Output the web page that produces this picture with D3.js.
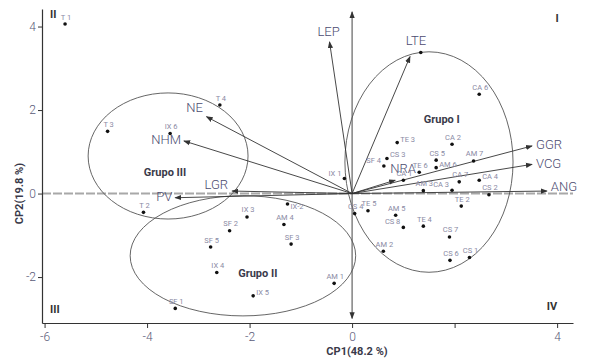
<!DOCTYPE html>
<html>
<head>
<meta charset="utf-8">
<script src="https://cdn.jsdelivr.net/npm/d3@7"></script>
<style>
  body { margin: 0; background: #fff; }
  svg { display: block; font-family: Roboto, "Open Sans", sans-serif; }
</style>
</head>
<body>
<div id="plot"></div>
<script>
// observations (scores on CP1 / CP2)
const obsNames = ["T 1", "T 3", "IX 6", "T 4", "T 2", "SF 1", "IX-2", "IX 3", "AM 4", "SF 2",
  "SF 5", "SF 3", "IX 4", "AM 1", "IX 5", "CS 4", "TE 5", "AM 2", "AM 3", "CA 3",
  "TE 2", "AM 5", "CS 8", "TE 4", "CS 7", "CS 6", "CS 1", "CS 2", "CA 2", "AM 7",
  "CA 4", "CA 7", "CA 6", "TE 3", "CS 3", "SF 4", "CS 5", "AM 6", "TE 6", "CA 1",
  "IX 1", ""];
const obsX = [-5.6, -4.77, -3.55, -2.58, -4.07, -3.45, -1.26, -2.05, -1.33, -2.39,
  -2.76, -1.19, -2.64, -0.35, -1.93, 0.05, 0.31, 0.61, 1.39, 1.95,
  2.13, 0.85, 1.0, 1.39, 1.90, 1.91, 2.29, 2.67, 1.95, 2.37,
  2.48, 2.09, 2.48, 0.88, 0.68, 0.62, 1.64, 1.64, 1.31, 1.0,
  -0.15, 1.34];
const obsY = [4.06, 1.49, 1.44, 2.12, -0.45, -2.75, -0.25, -0.56, -0.74, -0.89,
  -1.28, -1.21, -1.89, -2.15, -2.45, -0.48, -0.41, -1.38, 0.07, 0.08,
  -0.30, -0.52, -0.81, -0.78, -1.04, -1.60, -1.53, -0.03, 1.18, 0.78,
  0.32, 0.28, 2.38, 1.22, 0.84, 0.66, 0.80, 0.62, 0.51, 0.32,
  0.36, 3.38];

// variable loadings
const varNames = ["LEP", "LTE", "NE", "NHM", "LGR", "PV", "GGR", "VCG", "ANG", "NRA"];
const varX = [-0.44, 1.13, -2.84, -3.28, -2.34, -3.45, 3.51, 3.51, 3.80, 0.84];
const varY = [3.63, 3.28, 1.84, 1.26, 0.06, -0.10, 1.14, 0.70, 0.06, 0.32];

// groups
const groupNames = ["Grupo I", "Grupo II", "Grupo III"];
const groupCx = [1.50, -2.13, -3.59];
const groupCy = [0.755, -1.49, 0.90];
const groupRx = [1.64, 2.20, 1.56];
const groupRy = [2.64, 1.44, 1.51];
const groupLabelX = [1.75, -1.84, -3.65];
const groupLabelY = [1.76, -1.93, 0.49];

const quadrants = ["I", "II", "III", "IV"];
const xTicks = [-6, -4, -2, 0, 2, 4];
const yTicks = [-2, 0, 2, 4];

const width = 589, height = 358;
const margin = { top: 9, right: 16, bottom: 35, left: 42 };

const svg = d3.select("#plot").append("svg")
  .attr("width", width)
  .attr("height", height);

const x = d3.scaleLinear().domain([-6.05, 4.31]).range([margin.left, width - margin.right]);
const y = d3.scaleLinear().domain([-3.1, 4.42]).range([height - margin.bottom, margin.top]);

const defs = svg.append("defs");
defs.append("marker")
  .attr("id", "arr")
  .attr("viewBox", "0 -4 8 8")
  .attr("refX", 7).attr("refY", 0)
  .attr("markerUnits", "userSpaceOnUse")
  .attr("markerWidth", 7).attr("markerHeight", 7)
  .attr("orient", "auto-start-reverse")
  .append("path")
  .attr("d", "M0,-3L8,0L0,3Z")
  .attr("fill", "#333");

// zero lines
svg.append("line")
  .attr("x1", x.range()[0]).attr("x2", x.range()[1])
  .attr("y1", y(0)).attr("y2", y(0))
  .attr("stroke", "#a8a8a8").attr("stroke-width", 2)
  .attr("stroke-dasharray", "9,2");

svg.append("line")
  .attr("x1", x(0)).attr("x2", x(0))
  .attr("y1", y(-2.99)).attr("y2", y(4.35))
  .attr("stroke", "#444").attr("stroke-width", 1)
  .attr("marker-start", "url(#arr)")
  .attr("marker-end", "url(#arr)");

// group ellipses
svg.append("g").selectAll("ellipse")
  .data(groupNames)
  .join("ellipse")
  .attr("cx", (d, i) => x(groupCx[i]))
  .attr("cy", (d, i) => y(groupCy[i]))
  .attr("rx", (d, i) => x(groupRx[i]) - x(0))
  .attr("ry", (d, i) => y(0) - y(groupRy[i]))
  .attr("fill", "none")
  .attr("stroke", "#555")
  .attr("stroke-width", 0.9);

svg.append("g").selectAll("text")
  .data(groupNames)
  .join("text")
  .attr("x", (d, i) => x(groupLabelX[i]))
  .attr("y", (d, i) => y(groupLabelY[i]))
  .attr("text-anchor", "middle")
  .attr("dominant-baseline", "middle")
  .attr("font-size", 11)
  .attr("font-weight", 700)
  .attr("fill", "#3a3a4a")
  .text(d => d);

// vectors
svg.append("g").selectAll("line")
  .data(varNames)
  .join("line")
  .attr("x1", x(0)).attr("y1", y(0))
  .attr("x2", (d, i) => x(varX[i]))
  .attr("y2", (d, i) => y(varY[i]))
  .attr("stroke", "#333")
  .attr("stroke-width", 0.9)
  .attr("marker-end", "url(#arr)");

const varSide = { LEP: "a", LTE: "a", NE: "nw", NHM: "l", LGR: "la", PV: "l", GGR: "r", VCG: "r", ANG: "r", NRA: "a" };
svg.append("g").selectAll("text")
  .data(varNames)
  .join("text")
  .each(function (d, i) {
    const px = x(varX[i]), py = y(varY[i]);
    const side = varSide[d];
    let tx = px, ty = py, anchor = "middle";
    if (side === "a") {
      ty = py - (d === "LTE" ? 15 : d === "NRA" ? 11 : 9);
      tx = px + (d === "LTE" ? 6 : d === "NRA" ? 8 : -1);
    }
    if (side === "nw") { tx = px - 12; ty = py - 8; }
    if (side === "l") { tx = px - 3; anchor = "end"; }
    if (side === "la") { tx = px - 4; ty = py - 5; anchor = "end"; }
    if (side === "r") { tx = px + 4; ty = py - (d === "ANG" ? 3 : 0); anchor = "start"; }
    d3.select(this)
      .attr("x", tx).attr("y", ty)
      .attr("text-anchor", anchor)
      .attr("dominant-baseline", "middle");
  })
  .attr("font-size", 13)
  .attr("font-weight", 300)
  .attr("fill", "#4b4b70")
  .text(d => d);

// observations
const obs = obsNames.map((n, i) => ({ name: n, x: obsX[i], y: obsY[i] }));
svg.append("g").selectAll("circle")
  .data(obs)
  .join("circle")
  .attr("cx", d => x(d.x))
  .attr("cy", d => y(d.y))
  .attr("r", 1.8)
  .attr("fill", "#111");

const obsSide = { "IX 5": "r", "IX-2": "r", "TE 3": "r", "CS 3": "r", "AM 6": "r", "CA 4": "r",
  "SF 4": "l", "CS 8": "l", "CA 3": "l", "IX 1": "l" };
svg.append("g").selectAll("text")
  .data(obs)
  .join("text")
  .each(function (d) {
    const px = x(d.x), py = y(d.y);
    const side = obsSide[d.name];
    const t = d3.select(this);
    if (side === "r") t.attr("x", px + 3).attr("y", py + (d.name === "IX-2" ? 5 : -1)).attr("text-anchor", "start");
    else if (side === "l") t.attr("x", px - 3).attr("y", py - 3).attr("text-anchor", "end");
    else t.attr("x", px + 1).attr("y", py - 4.5).attr("text-anchor", "middle");
  })
  .attr("dominant-baseline", "auto")
  .attr("font-size", 7.5)
  .attr("fill", "#8a8aa4")
  .text(d => d.name);

// axes
const fmt = d => (d === 2 ? "" : String(d));
const xAxis = svg.append("g")
  .attr("transform", `translate(0,${y.range()[0]})`)
  .call(d3.axisBottom(x).tickValues(xTicks).tickSize(5).tickSizeOuter(0).tickPadding(4).tickFormat(fmt));
const yAxis = svg.append("g")
  .attr("transform", `translate(${x.range()[0]},0)`)
  .call(d3.axisLeft(y).tickValues(yTicks).tickSize(4).tickSizeOuter(0).tickPadding(2).tickFormat(d => String(d)));

[xAxis, yAxis].forEach(a => {
  a.select(".domain").attr("stroke", "#333").attr("stroke-width", 1.2);
  a.selectAll(".tick line").attr("stroke", "#333");
  a.selectAll(".tick text")
    .attr("font-family", "Roboto, sans-serif")
    .attr("font-size", 12)
    .attr("font-weight", 300)
    .attr("fill", "#5a5a78");
});

svg.append("text")
  .attr("x", 357).attr("y", 352)
  .attr("text-anchor", "middle").attr("dominant-baseline", "middle")
  .attr("font-size", 11).attr("font-weight", 700).attr("fill", "#3a3a4a")
  .text("CP1(48.2 %)");

svg.append("text")
  .attr("transform", `translate(20,${y(0)}) rotate(-90)`)
  .attr("text-anchor", "middle").attr("dominant-baseline", "middle")
  .attr("font-size", 11).attr("font-weight", 700).attr("fill", "#3a3a4a")
  .text("CP2(19.8 %)");

// quadrant marks
const quadPos = { I: [557, 19, "middle"], II: [50, 15, "start"], III: [50, 310, "start"], IV: [552, 307, "middle"] };
svg.append("g").selectAll("text")
  .data(quadrants)
  .join("text")
  .attr("x", d => quadPos[d][0])
  .attr("y", d => quadPos[d][1])
  .attr("text-anchor", d => quadPos[d][2])
  .attr("dominant-baseline", "middle")
  .attr("font-size", 11).attr("font-weight", 700).attr("fill", "#333")
  .text(d => d);
</script>
</body>
</html>
